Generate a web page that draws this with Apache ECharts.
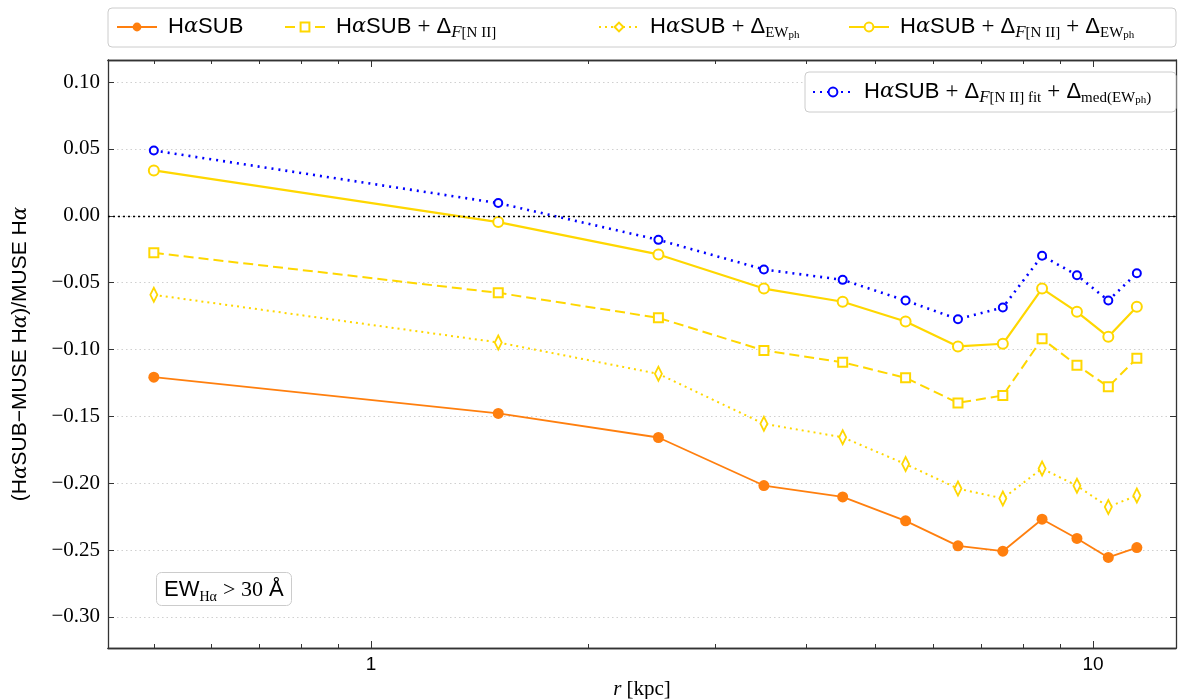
<!DOCTYPE html>
<html>
<head>
<meta charset="utf-8">
<script src="https://cdn.jsdelivr.net/npm/echarts@6/dist/echarts.min.js"></script>
<style>
  html, body { margin: 0; padding: 0; background: #fff; }
  #chart { width: 1185px; height: 699px; }
</style>
</head>
<body>
<div id="chart"></div>
<script>
  // radius in kpc
  var radius = [0.5, 1.5, 2.5, 3.5, 4.5, 5.5, 6.5, 7.5, 8.5, 9.5, 10.5, 11.5];
  // (HaSUB - MUSE Ha) / MUSE Ha
  var haSub = [-0.1207, -0.1478, -0.1658, -0.2017, -0.2102, -0.2281, -0.2468, -0.2508, -0.2269, -0.2413, -0.2555, -0.2481];
  var haSubNii = [-0.0277, -0.0576, -0.0763, -0.1007, -0.1095, -0.1212, -0.1399, -0.1344, -0.0920, -0.1117, -0.1279, -0.1065];
  var haSubEw = [-0.0591, -0.0947, -0.1182, -0.1556, -0.1656, -0.1857, -0.2040, -0.2114, -0.1890, -0.2019, -0.2177, -0.2092];
  var haSubNiiEw = [0.0339, -0.0047, -0.0289, -0.0544, -0.0643, -0.0790, -0.0977, -0.0957, -0.0544, -0.0718, -0.0905, -0.0681];
  var haSubFitMed = [0.0488, 0.0095, -0.0180, -0.0401, -0.0479, -0.0634, -0.0773, -0.0686, -0.0299, -0.0444, -0.0634, -0.0429];

  var yTicks = [-0.30, -0.25, -0.20, -0.15, -0.10, -0.05, 0.00, 0.05, 0.10];
  var xMajor = [1, 10];
  var xMinor = [0.5, 0.6, 0.7, 0.8, 0.9, 2, 3, 4, 5, 6, 7, 8, 9];

  var X_MIN = 0.432, X_MAX = 13.03, Y_MIN = -0.3232, Y_MAX = 0.1165;
  var ORANGE = '#ff7f0e', GOLD = '#ffd700', BLUE = '#0000ff';

  function pairs(ys) {
    return radius.map(function (r, i) { return [r, ys[i]]; });
  }

  var labelNames = {
    'sub': 'H{a|α}SUB',
    'nii': 'H{a|α}SUB {m|+} Δ{f|F}{s|[N II]}',
    'ew': 'H{a|α}SUB {m|+} Δ{s|EW}{ss|ph}',
    'niiew': 'H{a|α}SUB {m|+} Δ{f|F}{s|[N II]} {m|+} Δ{s|EW}{ss|ph}',
    'fit': 'H{a|α}SUB {m|+} Δ{f|F}{s|[N II] fit} {m|+} Δ{s|med(EW}{ss|ph}{s|)}'
  };
  var rich = {
    a: { fontFamily: 'DejaVu Serif', fontStyle: 'italic', fontSize: 21, lineHeight: 28, color: '#000' },
    m: { fontFamily: 'Liberation Serif', fontSize: 23, lineHeight: 28, color: '#000' },
    f: { fontFamily: 'Liberation Serif', fontStyle: 'italic', fontSize: 17, lineHeight: 17, verticalAlign: 'bottom', color: '#000' },
    s: { fontFamily: 'Liberation Serif', fontSize: 15, lineHeight: 16, verticalAlign: 'bottom', color: '#000' },
    ss: { fontFamily: 'Liberation Serif', fontSize: 11, lineHeight: 9, verticalAlign: 'bottom', color: '#000' }
  };

  function legendAt(name, left, top) {
    return {
      data: [name], left: left, top: top, orient: 'horizontal', z: 20,
      itemWidth: 40, itemHeight: 11, padding: 0,
      selectedMode: false,
      textStyle: { fontFamily: 'Liberation Sans', fontSize: 22, lineHeight: 28, color: '#000', rich: rich, padding: [0, 0, 0, 6] },
      formatter: function (n) { return labelNames[n]; }
    };
  }

  function tickAxisX(values, len, pos) {
    return {
      type: 'log', min: X_MIN, max: X_MAX, position: pos,
      axisLine: { show: true, onZero: false, lineStyle: { color: '#333', width: 1.3 } },
      axisTick: { show: true, inside: true, length: len, customValues: values, lineStyle: { color: '#333', width: 1 } },
      axisLabel: { show: false },
      minorTick: { show: false },
      splitLine: { show: false }
    };
  }

  var chart = echarts.init(document.getElementById('chart'));
  var option = {
    animation: false,
    backgroundColor: '#fff',
    grid: { left: 108, right: 9, top: 60, bottom: 51, containLabel: false, outerBoundsMode: 'none' },
    title: {
      text: 'EW{s|Hα} {m|> 30} Å',
      left: 156, top: 572,
      padding: [4, 8, 2, 8],
      borderColor: '#ccc', borderWidth: 1, borderRadius: 5,
      backgroundColor: '#fff',
      textStyle: {
        fontFamily: 'Liberation Sans', fontSize: 22, fontWeight: 'normal', color: '#000', lineHeight: 28,
        rich: {
          s: { fontFamily: 'Liberation Serif', fontSize: 14, lineHeight: 15, verticalAlign: 'bottom', color: '#000' },
          m: { fontFamily: 'Liberation Serif', fontSize: 22, lineHeight: 28, color: '#000' }
        }
      }
    },
    graphic: [
      { type: 'rect', shape: { x: 108, y: 8, width: 1068, height: 39, r: 4 }, style: { fill: '#fff', stroke: '#ccc', lineWidth: 1 }, z: 0, silent: true },
      { type: 'rect', shape: { x: 805, y: 72, width: 371, height: 40, r: 4 }, style: { fill: '#fff', stroke: '#ccc', lineWidth: 1 }, z: 5, silent: true }
    ],
    legend: [
      legendAt('sub', 116, 13),
      legendAt('nii', 284, 13),
      legendAt('ew', 598, 13),
      legendAt('niiew', 848, 13),
      legendAt('fit', 812, 78)
    ],
    xAxis: [
      {
        type: 'log', min: X_MIN, max: X_MAX, position: 'bottom',
        name: '{i|r} [kpc]', nameLocation: 'middle', nameGap: 24,
        nameTextStyle: { fontFamily: 'Liberation Serif', fontSize: 21, color: '#000',
          rich: { i: { fontFamily: 'Liberation Serif', fontStyle: 'italic', fontSize: 21, color: '#000' } } },
        axisLine: { show: true, onZero: false, lineStyle: { color: '#333', width: 1.3 } },
        axisTick: { show: true, inside: true, length: 7, customValues: xMajor, lineStyle: { color: '#333', width: 1 } },
        axisLabel: { show: true, customValues: xMajor, fontFamily: 'Liberation Sans', fontSize: 19, color: '#000', margin: 7,
          formatter: function (v) { return String(Math.round(v)); } },
        minorTick: { show: false },
        splitLine: { show: false }
      },
      tickAxisX(xMinor, 4, 'bottom'),
      tickAxisX(xMajor, 7, 'top'),
      tickAxisX(xMinor, 4, 'top')
    ],
    yAxis: [
      {
        type: 'value', min: Y_MIN, max: Y_MAX, position: 'left',
        name: '(H{a|α}SUB−MUSE H{a|α})/MUSE H{a|α}', nameLocation: 'middle', nameGap: 77, nameRotate: 90,
        nameTextStyle: { fontFamily: 'Liberation Sans', fontSize: 21, color: '#000',
          rich: { a: { fontFamily: 'DejaVu Serif', fontStyle: 'italic', fontSize: 20, color: '#000' } } },
        axisLine: { show: true, onZero: false, lineStyle: { color: '#333', width: 1.3 } },
        axisTick: { show: true, inside: true, length: 6, customValues: yTicks, lineStyle: { color: '#333', width: 1 } },
        axisLabel: { show: true, customValues: yTicks, fontFamily: 'Liberation Serif', fontSize: 21, color: '#000', margin: 8,
          formatter: function (v) { return v.toFixed(2).replace('-', '−').replace('−0.00', '0.00'); } },
        splitLine: { show: true, lineStyle: { color: '#d0d0d0', type: [1.5, 3], width: 1.2 } }
      },
      {
        type: 'value', min: Y_MIN, max: Y_MAX, position: 'right',
        axisLine: { show: true, onZero: false, lineStyle: { color: '#333', width: 1.3 } },
        axisTick: { show: true, inside: true, length: 6, customValues: yTicks, lineStyle: { color: '#333', width: 1 } },
        axisLabel: { show: false },
        splitLine: { show: false }
      }
    ],
    series: [
      {
        name: 'sub', type: 'line', data: pairs(haSub), z: 3,
        symbol: 'circle', symbolSize: 11,
        itemStyle: { color: ORANGE },
        lineStyle: { color: ORANGE, width: 1.8, type: 'solid' },
        markLine: {
          silent: true, symbol: 'none', label: { show: false },
          lineStyle: { color: '#000', type: [2, 3], width: 1.3 },
          data: [{ yAxis: 0 }]
        }
      },
      {
        name: 'nii', type: 'line', data: pairs(haSubNii), z: 3,
        symbol: 'emptyRect', symbolSize: 9,
        itemStyle: { color: GOLD, borderWidth: 1.5 },
        lineStyle: { color: GOLD, width: 2, type: [10, 5] }
      },
      {
        name: 'ew', type: 'line', data: pairs(haSubEw), z: 3,
        symbol: 'emptyDiamond', symbolSize: [7, 14],
        itemStyle: { color: GOLD, borderWidth: 1.5 },
        lineStyle: { color: GOLD, width: 2, type: [2, 4] }
      },
      {
        name: 'niiew', type: 'line', data: pairs(haSubNiiEw), z: 3,
        symbol: 'emptyCircle', symbolSize: 10,
        itemStyle: { color: GOLD, borderWidth: 1.5 },
        lineStyle: { color: GOLD, width: 2.2, type: 'solid' }
      },
      {
        name: 'fit', type: 'line', data: pairs(haSubFitMed), z: 3,
        symbol: 'emptyCircle', symbolSize: 8,
        itemStyle: { color: BLUE, borderWidth: 2 },
        lineStyle: { color: BLUE, width: 2.6, type: [2, 5] }
      }
    ]
  };
  chart.setOption(option);
</script>
</body>
</html>
